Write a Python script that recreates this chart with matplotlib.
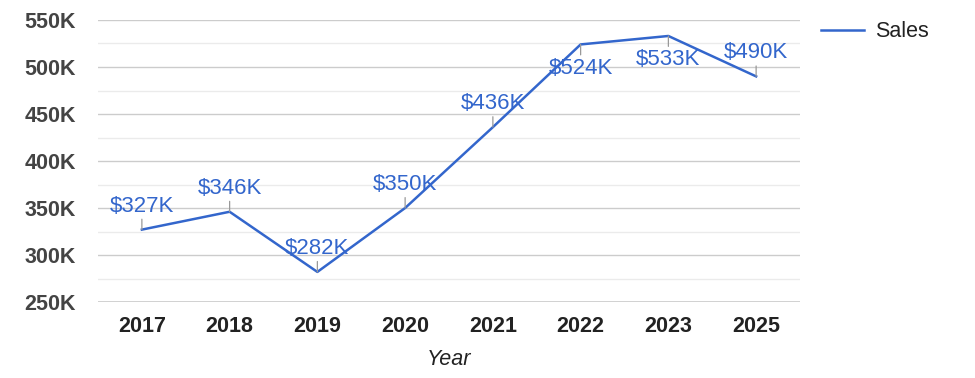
import matplotlib.pyplot as plt
from matplotlib.ticker import MultipleLocator, FuncFormatter

plt.rcParams['font.family'] = ['Liberation Sans', 'DejaVu Sans']

years = ['2017', '2018', '2019', '2020', '2021', '2022', '2023', '2025']
sales = [327, 346, 282, 350, 436, 524, 533, 490]  # thousands
labels = ['$327K', '$346K', '$282K', '$350K', '$436K', '$524K', '$533K', '$490K']

blue = '#3366cc'

fig = plt.figure(figsize=(9.75, 3.78), dpi=100)
ax = fig.add_axes([98 / 975, 76 / 378, 702 / 975, 282 / 378])

x = list(range(len(years)))
ax.plot(x, sales, color=blue, lw=1.8, label='Sales', zorder=3)

ax.set_xlim(-0.5, len(years) - 0.5)
ax.set_ylim(250, 550)
ax.yaxis.set_major_locator(MultipleLocator(50))
ax.yaxis.set_minor_locator(MultipleLocator(25))
ax.yaxis.set_major_formatter(FuncFormatter(lambda v, p: '%dK' % v))
ax.grid(which='major', axis='y', color='#cccccc', lw=1)
ax.grid(which='minor', axis='y', color='#ebebeb', lw=1)
ax.set_axisbelow(True)
for s in ['top', 'right', 'left', 'bottom']:
    ax.spines[s].set_visible(False)
ax.axhline(250, color='#cccccc', lw=1.2, zorder=1)

ax.tick_params(axis='both', which='both', length=0)
ax.tick_params(axis='y', pad=16, labelsize=15.5, labelcolor='#444444')
ax.tick_params(axis='x', pad=10, labelsize=15.5, labelcolor='#222222')
ax.set_xticks(x)
ax.set_xticklabels(years)
for t in ax.get_xticklabels() + ax.get_yticklabels():
    t.set_fontweight('bold')

ax.set_xlabel('Year', fontsize=15.5, style='italic', color='#222222', labelpad=9)

# data labels with small stems; flip below when near the top
for xi, v, lab in zip(x, sales, labels):
    d = -1 if v > 500 else 1
    ax.annotate('', xy=(xi, v), xytext=(0, 7.5 * d), textcoords='offset points',
                arrowprops=dict(arrowstyle='-', color='#999999', lw=0.9,
                                shrinkA=0, shrinkB=0))
    ax.annotate(lab, xy=(xi, v), xytext=(0, 17 * d), textcoords='offset points',
                ha='center', va='center', fontsize=16, color=blue, zorder=4)

fig.legend(loc='upper left', bbox_to_anchor=(802 / 975, 1 - 2 / 378),
           frameon=False, fontsize=15.5, handlelength=2.0, handletextpad=0.5,
           labelcolor='#222222')

fig.savefig('out.png', dpi=100)
